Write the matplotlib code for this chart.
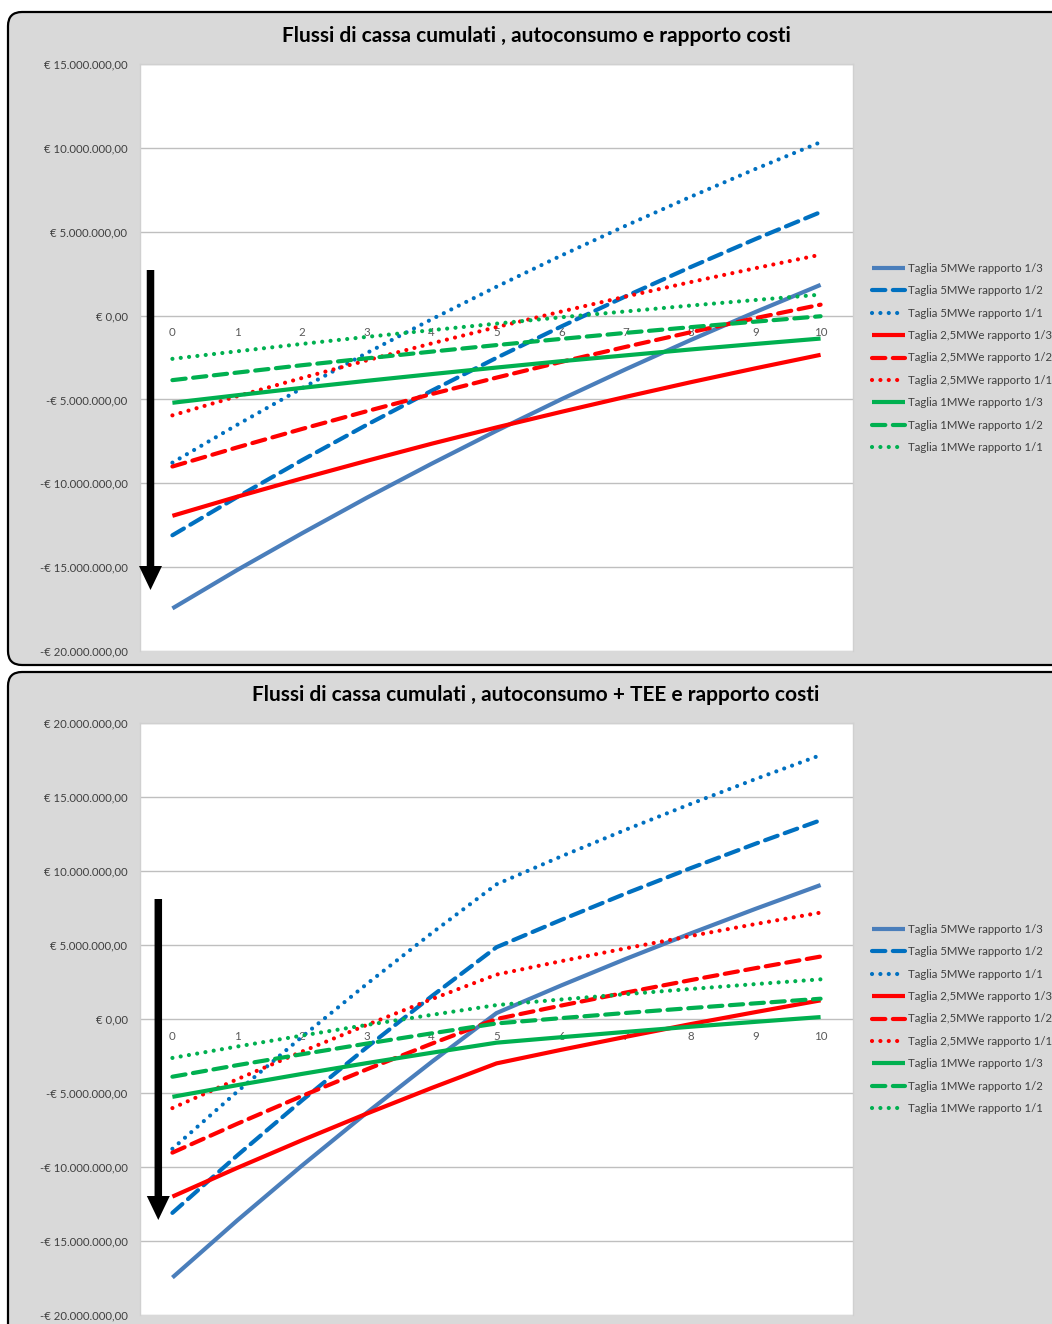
import matplotlib
matplotlib.use("Agg")
import numpy as np
import matplotlib.pyplot as plt
from matplotlib.patches import FancyBboxPatch, FancyArrow
from matplotlib.ticker import FuncFormatter, MultipleLocator

plt.rcParams["font.family"] = ["Lato", "DejaVu Sans"]

# ---------------------------------------------------------------- data
years = list(range(11))
year_labels = [str(y) for y in years]

series_labels = [
    "Taglia 5MWe rapporto 1/3",
    "Taglia 5MWe rapporto 1/2",
    "Taglia 5MWe rapporto 1/1",
    "Taglia 2,5MWe rapporto 1/3",
    "Taglia 2,5MWe rapporto 1/2",
    "Taglia 2,5MWe rapporto 1/1",
    "Taglia 1MWe rapporto 1/3",
    "Taglia 1MWe rapporto 1/2",
    "Taglia 1MWe rapporto 1/1",
]

# Cumulative cash flow, self-consumption only (million EUR)
auto_5mw_13 = [-17.46, -15.17, -12.98, -10.86, -8.83, -6.87, -4.99, -3.19, -1.45, 0.22, 1.83]
auto_5mw_12 = [-13.10, -10.82, -8.62, -6.51, -4.48, -2.52, -0.65, 1.16, 2.90, 4.57, 6.17]
auto_5mw_11 = [-8.77, -6.51, -4.33, -2.23, -0.22, 1.72, 3.58, 5.37, 7.09, 8.75, 10.34]
auto_25mw_13 = [-11.94, -10.80, -9.71, -8.66, -7.64, -6.67, -5.74, -4.84, -3.97, -3.14, -2.34]
auto_25mw_12 = [-9.00, -7.86, -6.76, -5.70, -4.68, -3.70, -2.76, -1.86, -0.99, -0.15, 0.65]
auto_25mw_11 = [-5.95, -4.81, -3.72, -2.67, -1.66, -0.69, 0.24, 1.14, 2.00, 2.83, 3.63]
auto_1mw_13 = [-5.20, -4.75, -4.31, -3.89, -3.49, -3.10, -2.72, -2.37, -2.02, -1.69, -1.37]
auto_1mw_12 = [-3.85, -3.40, -2.96, -2.55, -2.15, -1.76, -1.39, -1.03, -0.69, -0.36, -0.04]
auto_1mw_11 = [-2.58, -2.13, -1.69, -1.27, -0.87, -0.48, -0.10, 0.25, 0.60, 0.93, 1.25]

# Cumulative cash flow, self-consumption + TEE (million EUR)
tee_5mw_13 = [-17.47, -13.61, -9.90, -6.33, -2.90, 0.40, 2.27, 4.07, 5.79, 7.45, 9.05]
tee_5mw_12 = [-13.10, -9.22, -5.50, -1.91, 1.54, 4.85, 6.70, 8.49, 10.20, 11.85, 13.43]
tee_5mw_11 = [-8.77, -4.91, -1.20, 2.37, 5.80, 9.10, 10.99, 12.80, 14.54, 16.22, 17.83]
tee_25mw_13 = [-12.00, -10.06, -8.19, -6.39, -4.66, -3.00, -2.08, -1.20, -0.34, 0.47, 1.26]
tee_25mw_12 = [-9.03, -7.08, -5.20, -3.40, -1.67, 0.00, 0.91, 1.79, 2.63, 3.44, 4.22]
tee_25mw_11 = [-6.02, -4.07, -2.20, -0.40, 1.34, 3.00, 3.91, 4.78, 5.61, 6.42, 7.19]
tee_1mw_13 = [-5.26, -4.47, -3.71, -2.98, -2.28, -1.60, -1.23, -0.87, -0.52, -0.19, 0.13]
tee_1mw_12 = [-3.90, -3.12, -2.38, -1.66, -0.97, -0.30, 0.06, 0.41, 0.74, 1.06, 1.37]
tee_1mw_11 = [-2.63, -1.86, -1.12, -0.40, 0.28, 0.94, 1.32, 1.68, 2.03, 2.36, 2.68]

title_auto = "Flussi di cassa cumulati , autoconsumo e rapporto costi"
title_tee = "Flussi di cassa cumulati , autoconsumo + TEE e rapporto costi"

# ---------------------------------------------------------------- styles
BLUE_SOLID = "#4A7EBB"
BLUE = "#0070C0"
RED = "#FF0000"
GREEN = "#00B050"
DASH = (0, (3.2, 1.8))
DOT = (0, (0.01, 2.0))
styles = [
    (BLUE_SOLID, "-"), (BLUE, DASH), (BLUE, DOT),
    (RED, "-"), (RED, DASH), (RED, DOT),
    (GREEN, "-"), (GREEN, DASH), (GREEN, DOT),
]
LW = 3.0
TXT = "#404040"

W, H = 1052, 1324
fig = plt.figure(figsize=(W / 100, H / 100), dpi=100)
fig.patch.set_facecolor("white")

# background canvas in pixel units
bg = fig.add_axes([0, 0, 1, 1], zorder=0)
bg.set_xlim(0, W)
bg.set_ylim(H, 0)
bg.axis("off")
for (y0, y1) in [(12, 665), (672, 1340)]:
    bg.add_patch(FancyBboxPatch((8, y0), W + 20, y1 - y0,
                                boxstyle="round,pad=0,rounding_size=14",
                                facecolor="#D9D9D9", edgecolor="black", linewidth=1.6))


def euro(v, pos):
    s = f"{abs(v):,.2f}".replace(",", "X").replace(".", ",").replace("X", ".")
    return ("-€ " if v < 0 else "€ ") + s


def draw_panel(top_px, bottom_px, ylim, data, title, title_y, legend_y):
    ax = fig.add_axes([140 / W, 1 - bottom_px / H, 713 / W, (bottom_px - top_px) / H], zorder=1)
    ax.set_facecolor("white")
    handles = []
    for vals, lab, (col, ls) in zip(data, series_labels, styles):
        ln, = ax.plot(years, np.array(vals) * 1e6, color=col, linestyle=ls, lw=LW,
                      dash_capstyle="round", solid_capstyle="butt", label=lab, zorder=3)
        handles.append(ln)
    ax.set_xlim(-0.5, 10.5)
    ax.set_ylim(*ylim)
    ax.yaxis.set_major_locator(MultipleLocator(5e6))
    ax.yaxis.set_major_formatter(FuncFormatter(euro))
    ax.grid(axis="y", color="#BFBFBF", lw=1.0, zorder=1)
    ax.set_axisbelow(True)
    ax.set_xticks(years)
    ax.set_xticklabels(year_labels)
    ax.spines["bottom"].set_position(("data", 0))
    ax.spines["bottom"].set_visible(False)
    for s in ("left", "top", "right"):
        ax.spines[s].set_color("#D0D0D0")
        ax.spines[s].set_linewidth(1.0)
    ax.tick_params(axis="x", length=0, pad=8.5, labelsize=8.3, labelcolor="#595959")
    ax.tick_params(axis="y", length=0, pad=9, labelsize=8.2, labelcolor=TXT)
    fig.text(536 / W, 1 - title_y / H, title, ha="center", va="center",
             fontsize=15, fontweight="bold", color="black")
    fig.legend(handles=handles, loc="center left",
               bbox_to_anchor=(872 / W, 1 - legend_y / H),
               frameon=False, fontsize=8.2, handlelength=2.9, handletextpad=0.25,
               labelspacing=1.0, borderpad=0, borderaxespad=0, labelcolor=TXT)
    return ax


draw_panel(64, 651, (-20e6, 15e6),
           [auto_5mw_13, auto_5mw_12, auto_5mw_11, auto_25mw_13, auto_25mw_12,
            auto_25mw_11, auto_1mw_13, auto_1mw_12, auto_1mw_11],
           title_auto, 36, 358)
draw_panel(723, 1315, (-20e6, 20e6),
           [tee_5mw_13, tee_5mw_12, tee_5mw_11, tee_25mw_13, tee_25mw_12,
            tee_25mw_11, tee_1mw_13, tee_1mw_12, tee_1mw_11],
           title_tee, 695, 1019)

# downward arrows over the plot areas
ov = fig.add_axes([0, 0, 1, 1], zorder=5)
ov.set_xlim(0, W)
ov.set_ylim(H, 0)
ov.axis("off")
ov.patch.set_alpha(0)
for (x, ytop, ytip) in [(150.5, 270, 590), (158.3, 899, 1220)]:
    ov.add_patch(FancyArrow(x, ytop, 0, ytip - ytop, width=7.5, head_width=23,
                            head_length=24, length_includes_head=True,
                            color="black", lw=0))

fig.savefig("out.png", dpi=100, facecolor="white")
